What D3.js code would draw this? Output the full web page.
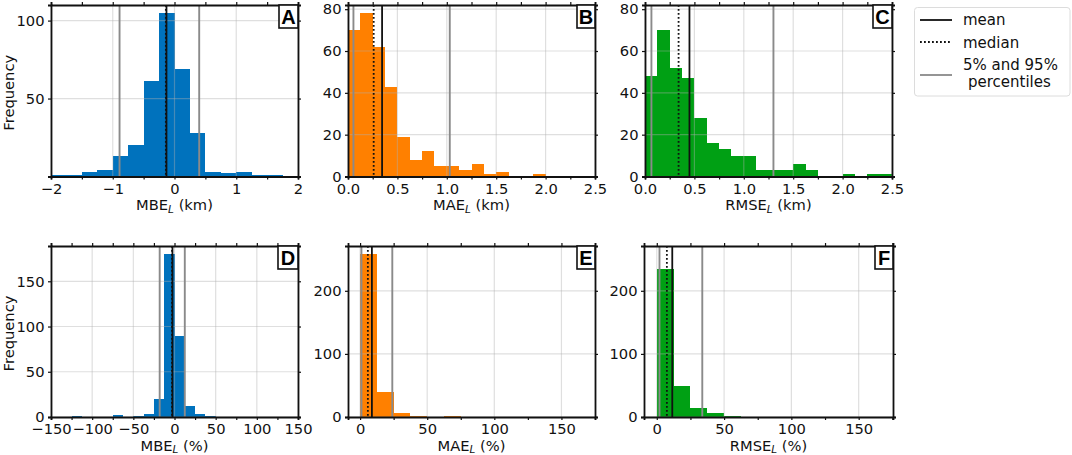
<!DOCTYPE html>
<html>
<head>
<meta charset="utf-8">
<script src="https://cdn.jsdelivr.net/npm/d3@7"></script>
<style>
  html, body { margin: 0; padding: 0; background: #fff; }
  svg { display: block; }
  text { font-family: "DejaVu Sans", sans-serif; fill: #111; }
</style>
</head>
<body>
<div id="chart"></div>
<script>
// left edge of each histogram bin, counts
const kmEdges = [0,0.125,0.25,0.375,0.5,0.625,0.75,0.875,1,1.125,1.25,1.375,1.5,1.625,1.75,1.875,2,2.125,2.25,2.375]
const mbeKmEdges = [-2,-1.75,-1.5,-1.25,-1,-0.75,-0.5,-0.25,0,0.25,0.5,0.75,1,1.25,1.5]
const mbePctEdges = [-125,-75,-50,-37.5,-25,-12.5,0,12.5,25,37.5]
const pctEdges = [0,12.5,25,37.5,50,62.5]

const mbeKm = [1,1,3,4,13,20,61,105,69,28,3,2,3,1,1]
const maeKm = [70,78,62,43,19,8,12,5,5,3,6,1,2,0,0,1,0,0,0,0]
const rmseKm = [48,70,52,47,28,16,13,10,10,3,3,3,6,3,0,0,1,0,1,1]
const mbePct = [1,2,1,3,20,180,89,12,3,1]
const maePct = [258,39,7,2,0,2]
const rmsePct = [235,49,14,6,1,0]

// mean, median, p5, p95
const mbeKmStats = [-0.13,-0.14,-0.89,0.4]
const maeKmStats = [0.345,0.26,0.055,1.03]
const rmseKmStats = [0.45,0.34,0.065,1.3]
const mbePctStats = [-2.5,-3,-18,12.5]
const maePctStats = [8.8,5.8,1,24]
const rmsePctStats = [11.5,7.5,2,33.8]

const legendLabels = ['mean','median']
const legendLabel3 = ['5% and 95%',' percentiles']

const W = 1072, H = 455
const blue = '#0072bd', orange = '#ff8000', green = '#00a014'

let svg = d3.select('#chart').append('svg').attr('width',W).attr('height',H).attr('viewBox',`0 0 ${W} ${H}`)

let panels = [
  {id:'A',name:'MBE',unit:'km',edges:mbeKmEdges,binW:0.25,counts:mbeKm,stats:mbeKmStats,color:blue,
   box:[51,298,5,176.5],xd:[-2,2],yd:[0,110],xt:[-2,-1,0,1,2],xm:[-2,-1.5,-1,-0.5,0,0.5,1,1.5,2],yt:[50,100],fmt:d3.format('d'),ylab:true,lab:19},
  {id:'B',name:'MAE',unit:'km',edges:kmEdges,binW:0.125,counts:maeKm,stats:maeKmStats,color:orange,
   box:[348,595,5,176.5],xd:[0,2.5],yd:[0,82],xt:[0,0.5,1,1.5,2,2.5],xm:[0,0.25,0.5,0.75,1,1.25,1.5,1.75,2,2.25,2.5],yt:[0,20,40,60,80],fmt:d3.format('.1f'),lab:18},
  {id:'C',name:'RMSE',unit:'km',edges:kmEdges,binW:0.125,counts:rmseKm,stats:rmseKmStats,color:green,
   box:[645,892,5,176.5],xd:[0,2.5],yd:[0,82],xt:[0,0.5,1,1.5,2,2.5],xm:[0,0.25,0.5,0.75,1,1.25,1.5,1.75,2,2.25,2.5],yt:[0,20,40,60,80],fmt:d3.format('.1f'),lab:19},
  {id:'D',name:'MBE',unit:'%',edges:mbePctEdges,binW:12.5,counts:mbePct,stats:mbePctStats,color:blue,
   box:[51,298,246,417],xd:[-150,150],yd:[0,189],xt:[-150,-100,-50,0,50,100,150],xm:[-150,-125,-100,-75,-50,-25,0,25,50,75,100,125,150],yt:[0,50,100,150],fmt:d3.format('d'),ylab:true,lab:20},
  {id:'E',name:'MAE',unit:'%',edges:pctEdges,binW:12.5,counts:maePct,stats:maePctStats,color:orange,
   box:[348,595,246,417],xd:[-9,175],yd:[0,271],xt:[0,50,100,150],xm:[0,25,50,75,100,125,150,175],yt:[0,100,200],fmt:d3.format('d'),lab:18},
  {id:'F',name:'RMSE',unit:'%',edges:pctEdges,binW:12.5,counts:rmsePct,stats:rmsePctStats,color:green,
   box:[644,893,246,417],xd:[-9.5,175.5],yd:[0,271],xt:[0,50,100,150],xm:[0,25,50,75,100,125,150,175],yt:[0,100,200],fmt:d3.format('d'),lab:18}
]

panels.forEach(p=>{
  let [l,r,t,b] = p.box
  let x = d3.scaleLinear().domain(p.xd).range([l,r])
  let y = d3.scaleLinear().domain(p.yd).range([b,t])
  let g = svg.append('g').attr('class','panel-'+p.id)

  // bars
  g.append('g').attr('shape-rendering','crispEdges').selectAll('rect')
    .data(p.counts.map((c,i)=>({x0:p.edges[i],c:c})))
    .enter().append('rect')
    .attr('x',d=>x(d.x0))
    .attr('width',d=>x(d.x0+p.binW)-x(d.x0))
    .attr('y',d=>y(d.c))
    .attr('height',d=>y(0)-y(d.c))
    .attr('fill',p.color)

  // grid sits over the bars, very faint
  let grid = g.append('g').attr('stroke','#b0b0b0').attr('stroke-opacity',.4).attr('stroke-width',1.2)
  grid.selectAll('line.gx').data(p.xt).enter().append('line')
    .attr('x1',d=>x(d)).attr('x2',d=>x(d)).attr('y1',t).attr('y2',b)
  grid.selectAll('line.gy').data(p.yt).enter().append('line')
    .attr('y1',d=>y(d)).attr('y2',d=>y(d)).attr('x1',l).attr('x2',r)

  // stat lines
  let [mean,median,p5,p95] = p.stats
  let vline = (v,color,w,dash)=>{
    g.append('line').attr('x1',x(v)).attr('x2',x(v)).attr('y1',t).attr('y2',b)
      .attr('stroke',color).attr('stroke-width',w).attr('stroke-dasharray',dash||null)
  }
  vline(p5,'#8a8a8a',1.9); vline(p95,'#8a8a8a',1.9)
  vline(mean,'#111',1.8); vline(median,'#111',1.8,'1.8,2.2')

  // axes
  let bottom = g.append('g').attr('transform',`translate(0,${b})`)
    .call(d3.axisBottom(x).tickValues(p.xm).tickSize(3).tickPadding(4)
      .tickFormat(d=>p.xt.includes(d)?p.fmt(d):''))
  let topAxis = g.append('g').attr('transform',`translate(0,${t})`)
    .call(d3.axisTop(x).tickValues(p.xm).tickSize(3).tickFormat(''))
  let left = g.append('g').attr('transform',`translate(${l},0)`)
    .call(d3.axisLeft(y).tickValues(p.yt).tickSize(3).tickPadding(3.5).tickFormat(d3.format('d')))
  let right = g.append('g').attr('transform',`translate(${r},0)`)
    .call(d3.axisRight(y).tickValues(p.yt).tickSize(3).tickFormat(''))
  ;[bottom,topAxis,left,right].forEach(a=>{
    a.selectAll('.domain').attr('stroke','#111').attr('stroke-width',1.8)
    a.selectAll('.tick line').attr('stroke','#111').attr('stroke-width',1.2)
    a.selectAll('text').attr('font-size',14.7).attr('font-family','"DejaVu Sans", sans-serif').attr('fill','#111')
  })

  // x label with the italic subscript L
  let xl = g.append('text').attr('x',(l+r)/2).attr('y',b+33.5).attr('text-anchor','middle').attr('font-size',14.7)
  xl.append('tspan').text(p.name)
  xl.append('tspan').text('L').attr('font-style','italic').attr('font-size',10.5).attr('dy',2.5)
  xl.append('tspan').text(` (${p.unit})`).attr('dy',-2.5)

  if(p.ylab){
    g.append('text').attr('transform',`translate(14,${(t+b)/2+2}) rotate(-90)`)
      .attr('text-anchor','middle').attr('font-size',14.7).text('Frequency')
  }

  // panel letter
  g.append('rect').attr('x',r-p.lab).attr('y',t).attr('width',p.lab).attr('height',23)
    .attr('fill','#fff').attr('stroke','#111').attr('stroke-width',1.6)
  g.append('text').attr('x',r-p.lab/2).attr('y',t+18.5).attr('text-anchor','middle')
    .attr('font-weight','bold').attr('font-size',20)
    .style('font-family','"Liberation Sans", sans-serif').style('fill','#000').text(p.id)
})

// legend
let lg = svg.append('g').attr('class','legend')
lg.append('rect').attr('x',914.5).attr('y',7.5).attr('width',155.5).attr('height',88.5).attr('rx',3)
  .attr('fill','#fff').attr('stroke','#dcdcdc').attr('stroke-width',1)
let lgLine = (yy,color,dash)=>lg.append('line').attr('x1',920).attr('x2',952).attr('y1',yy).attr('y2',yy)
  .attr('stroke',color).attr('stroke-width',1.8).attr('stroke-dasharray',dash||null)
lgLine(20,'#111'); lgLine(42,'#111','1.8,2.2'); lgLine(75,'#8a8a8a')
lg.append('text').attr('x',963).attr('y',25).attr('font-size',15).text(legendLabels[0])
lg.append('text').attr('x',963).attr('y',48).attr('font-size',15).text(legendLabels[1])
lg.append('text').attr('x',963).attr('y',70).attr('font-size',15).text(legendLabel3[0])
lg.append('text').attr('x',968).attr('y',87).attr('font-size',15).text(legendLabel3[1].trim())
</script>
</body>
</html>
